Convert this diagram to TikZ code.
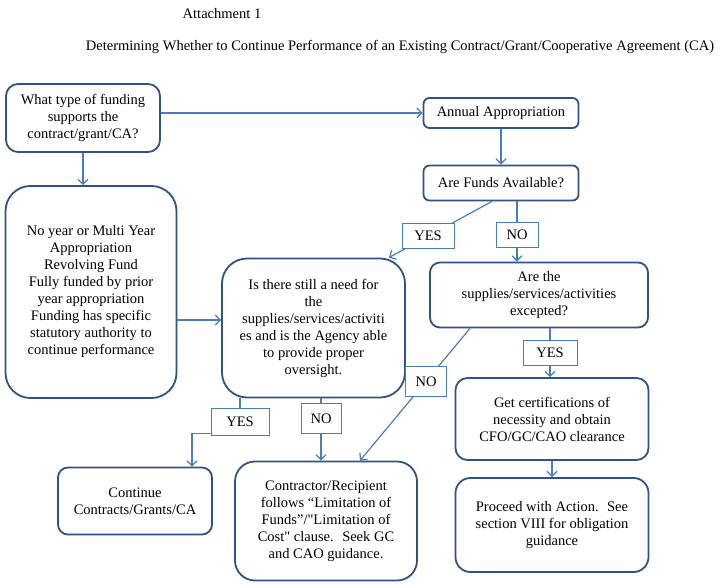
\documentclass[tikz,border=0pt]{standalone}
\usepackage{fontspec}
\setmainfont{Liberation Serif}
\usetikzlibrary{arrows.meta,positioning}
\definecolor{boxblue}{HTML}{2F5384}
\definecolor{lineblue}{HTML}{4A7EBB}
\tikzset{
    fundbox/.style={draw=boxblue, line width=1.8pt, rounded corners=12pt, align=center,
        font=\fontsize{14.5}{17}\selectfont, inner sep=2pt},
    tagbox/.style={draw, fill=white, line width=0.7pt, inner sep=0pt,
        font=\fontsize{14.5}{17}\selectfont, minimum width=52pt, minimum height=25pt},
    fundarrow/.style={-{Straight Barb[length=5pt,width=10pt]}, draw=lineblue, line width=1.2pt}
}

\begin{document}
\begin{tikzpicture}[x=1pt, y=-1pt]
\useasboundingbox (0,0) rectangle (720,585);
\node[font=\fontsize{14.5}{17}\selectfont] (att) at (222,14) {Attachment 1};
\node[font=\fontsize{14.5}{17}\selectfont] (title) at (400,47)
    {Determining Whether to Continue Performance of an Existing Contract/Grant/Cooperative Agreement (CA)};
% funding question and branches
\node[fundbox, minimum width=154pt, minimum height=68pt] (type) at (83,118)
    {What type of funding\\supports the\\contract/grant/CA?};
\node[fundbox, rounded corners=6pt, minimum width=155pt, minimum height=30pt] (annual) at (501,113)
    {Annual Appropriation};
\node[fundbox, rounded corners=6pt, minimum width=155pt, minimum height=35pt] (avail) at (501,183)
    {Are Funds Available?};
\node[fundbox, rounded corners=25pt, minimum width=171pt, minimum height=212pt] (multi) at (91,292)
    {No year or Multi Year\\Appropriation\\Revolving Fund\\Fully funded by prior\\year appropriation\\Funding has specific\\statutory authority to\\continue performance};
\node[fundbox, rounded corners=25pt, minimum width=183pt, minimum height=139pt] (need) at (313.5,328)
    {Is there still a need for\\the\\supplies/services/activiti\\es and is the Agency able\\to provide proper\\oversight.};
\node[fundbox, rounded corners=10pt, minimum width=218pt, minimum height=65pt] (except) at (539,295)
    {Are the\\supplies/services/activities\\excepted?};
\node[fundbox, minimum width=193pt, minimum height=82pt] (certify) at (552,419)
    {Get certifications of\\necessity and obtain\\CFO/GC/CAO clearance};
\node[fundbox, rounded corners=10pt, minimum width=154pt, minimum height=67pt] (cont) at (135,501)
    {Continue\\Contracts/Grants/CA};
\node[fundbox, rounded corners=20pt, minimum width=182pt, minimum height=119pt] (limit) at (326,521)
    {Contractor/Recipient\\follows “Limitation of\\Funds”/\textquotedbl Limitation of\\Cost\textquotedbl{} clause.~ Seek GC\\and CAO guidance.};
\node[fundbox, rounded corners=15pt, minimum width=193pt, minimum height=94pt] (proceed) at (552,525)
    {Proceed with Action.~ See\\section VIII for obligation\\guidance};
% connectors
\draw[fundarrow] (type.east |- annual.west) -- (annual.west);
\draw[fundarrow] (type.south) -- (type.south |- multi.north);
\draw[fundarrow] (annual) -- (avail);
\draw[fundarrow] ([xshift=-9pt]avail.south) -- node[tagbox, pos=0.62]{YES} ([xshift=-17pt]need.north east);
\draw[fundarrow] ([xshift=16pt]avail.south) -- node[tagbox, minimum width=42pt, pos=0.55]{NO}
    ([xshift=16pt]avail.south |- except.north);
\coordinate (needin) at ([yshift=8pt]need.west);
\draw[fundarrow] (multi.east |- needin) -- (needin);
\draw[fundarrow] ([xshift=11pt]except.south) -- node[tagbox, minimum width=54pt, pos=0.5]{YES}
    ([xshift=11pt]except.south |- certify.north);
\draw[fundarrow] ([xshift=-69pt]except.south) -- node[tagbox, minimum width=41pt, minimum height=30pt, pos=0.4]{NO}
    ([xshift=34pt]limit.north);
\draw[fundarrow] ([xshift=-73.5pt]need.south) -- node[tagbox, minimum width=58pt, minimum height=27pt, pos=0.66]{YES}
    ++(0,35) -| ([xshift=57pt]cont.north);
\draw[fundarrow] ([xshift=7.5pt]need.south) -- node[tagbox, minimum width=40pt, minimum height=30pt, pos=0.32]{NO}
    ([xshift=7.5pt]need.south |- limit.north);
\draw[fundarrow] (certify) -- (proceed);
\end{tikzpicture}
\end{document}
